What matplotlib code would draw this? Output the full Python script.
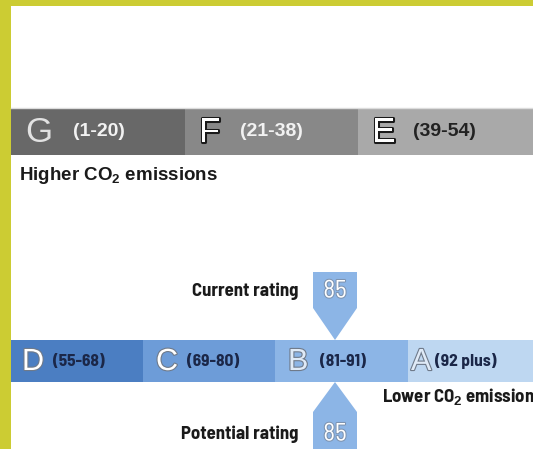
import matplotlib.pyplot as plt
from matplotlib.patches import Rectangle, Polygon
import matplotlib.patheffects as pe

plt.rcParams['mathtext.fontset'] = 'custom'
plt.rcParams['mathtext.rm'] = 'Liberation Sans:bold'
plt.rcParams['mathtext.bf'] = 'Liberation Sans:bold'

# bands
top_letters = ['G', 'F', 'E']
top_ranges = ['(1-20)', '(21-38)', '(39-54)']
top_colors = ['#686868', '#888888', '#a9a9a9']

bottom_letters = ['D', 'C', 'B', 'A']
bottom_ranges = ['(55-68)', '(69-80)', '(81-91)', '(92 plus)']
bottom_colors = ['#4b7ec2', '#6d9cd8', '#8cb5e6', '#bed7f1']

current_rating = 85
potential_rating = 85

# layout (pixels)
W, H = 533, 449
top_edges = [11, 185, 358, 533]
bot_edges = [11, 143, 275, 408, 533]
top_y0, top_y1 = 108, 155
bot_y0, bot_y1 = 340, 382
arrow_x, arrow_hw = 335, 22

fig = plt.figure(figsize=(W / 100, H / 100), dpi=100)
ax = fig.add_axes([0, 0, 1, 1])
ax.set_xlim(0, W)
ax.set_ylim(H, 0)
ax.axis('off')

# yellow frame
ax.add_patch(Rectangle((0, 0), 11, H, color='#cccc33', lw=0))
ax.add_patch(Rectangle((0, 0), W, 6, color='#cccc33', lw=0))

cond = ['Barlow Semi Condensed', 'DejaVu Sans']

# top band
top_letter_style = [
    dict(color='#e2e2e2', fx=None),
    dict(color='white', fx='#1a1a1a'),
    dict(color='white', fx='#1a1a1a'),
]
top_range_colors = ['#f2f2f2', '#f2f2f2', '#222222']
top_range_offsets = [62, 55, 55]
for i, (lab, rng) in enumerate(zip(top_letters, top_ranges)):
    x0, x1 = top_edges[i], top_edges[i + 1]
    ax.add_patch(Rectangle((x0, top_y0), x1 - x0, top_y1 - top_y0,
                           color=top_colors[i], lw=0))
    st = top_letter_style[i]
    t = ax.text(x0 + 14, (top_y0 + top_y1) / 2 + 1, lab, fontsize=25,
                family='Liberation Sans', color=st['color'],
                ha='left', va='center')
    if st['fx']:
        t.set_path_effects([pe.withStroke(linewidth=2.2, foreground=st['fx'])])
    ax.text(x0 + top_range_offsets[i], (top_y0 + top_y1) / 2, rng,
            fontsize=14, weight='bold', family='Liberation Sans',
            color=top_range_colors[i], ha='left', va='center')
ax.plot([top_edges[0], W], [top_y0, top_y0], color='#dcdcdc', lw=1)

ax.text(19, 175, r'Higher CO$_\mathbf{2}$ emissions', fontsize=13.5,
        weight='bold', family='Liberation Sans', color='#1a1a1a',
        ha='left', va='center')

# bottom band
bot_letter_offsets = [11, 13, 13, 3]
bot_range_offsets = [42, 44, 45, 27]
for i, (lab, rng) in enumerate(zip(bottom_letters, bottom_ranges)):
    x0, x1 = bot_edges[i], bot_edges[i + 1]
    ax.add_patch(Rectangle((x0, bot_y0), x1 - x0, bot_y1 - bot_y0,
                           color=bottom_colors[i], lw=0))
    t = ax.text(x0 + bot_letter_offsets[i], (bot_y0 + bot_y1) / 2 + 1, lab,
                fontsize=22, family='Liberation Sans',
                color='white' if i < 2 else '#dfeaf7',
                ha='left', va='center')
    t.set_path_effects([pe.withStroke(linewidth=1.6, foreground='#6f7a8a')])
    ax.text(x0 + bot_range_offsets[i], (bot_y0 + bot_y1) / 2, rng,
            fontsize=12.5, weight='bold', family=cond, stretch='condensed',
            color='#1b2748', ha='left', va='center')

ax.text(382, 397, r'Lower CO$_\mathbf{2}$ emissions', fontsize=13.5,
        weight='bold', family=cond, stretch='condensed', color='#1a1a1a',
        ha='left', va='center')

# rating arrows
arrow_col = '#8cb5e6'
ax.add_patch(Polygon([(arrow_x - arrow_hw, 272), (arrow_x + arrow_hw, 272),
                      (arrow_x + arrow_hw, 308), (arrow_x, bot_y0),
                      (arrow_x - arrow_hw, 308)], closed=True,
                     color=arrow_col, lw=0))
ax.add_patch(Polygon([(arrow_x, bot_y1), (arrow_x + arrow_hw, 412),
                      (arrow_x + arrow_hw, H), (arrow_x - arrow_hw, H),
                      (arrow_x - arrow_hw, 412)], closed=True,
                     color=arrow_col, lw=0))

for y, val, lab in [(291, current_rating, 'Current rating'),
                    (434, potential_rating, 'Potential rating')]:
    t = ax.text(arrow_x, y, str(val), fontsize=18, family=cond,
                stretch='condensed', color='white', ha='center', va='center')
    t.set_path_effects([pe.withStroke(linewidth=1.5, foreground='#7d93b0')])
    ax.text(298, y, lab, fontsize=13.5, weight='bold', family=cond,
            stretch='condensed', color='#1a1a1a', ha='right', va='center')

fig.savefig('out.png', dpi=100, facecolor='white')
